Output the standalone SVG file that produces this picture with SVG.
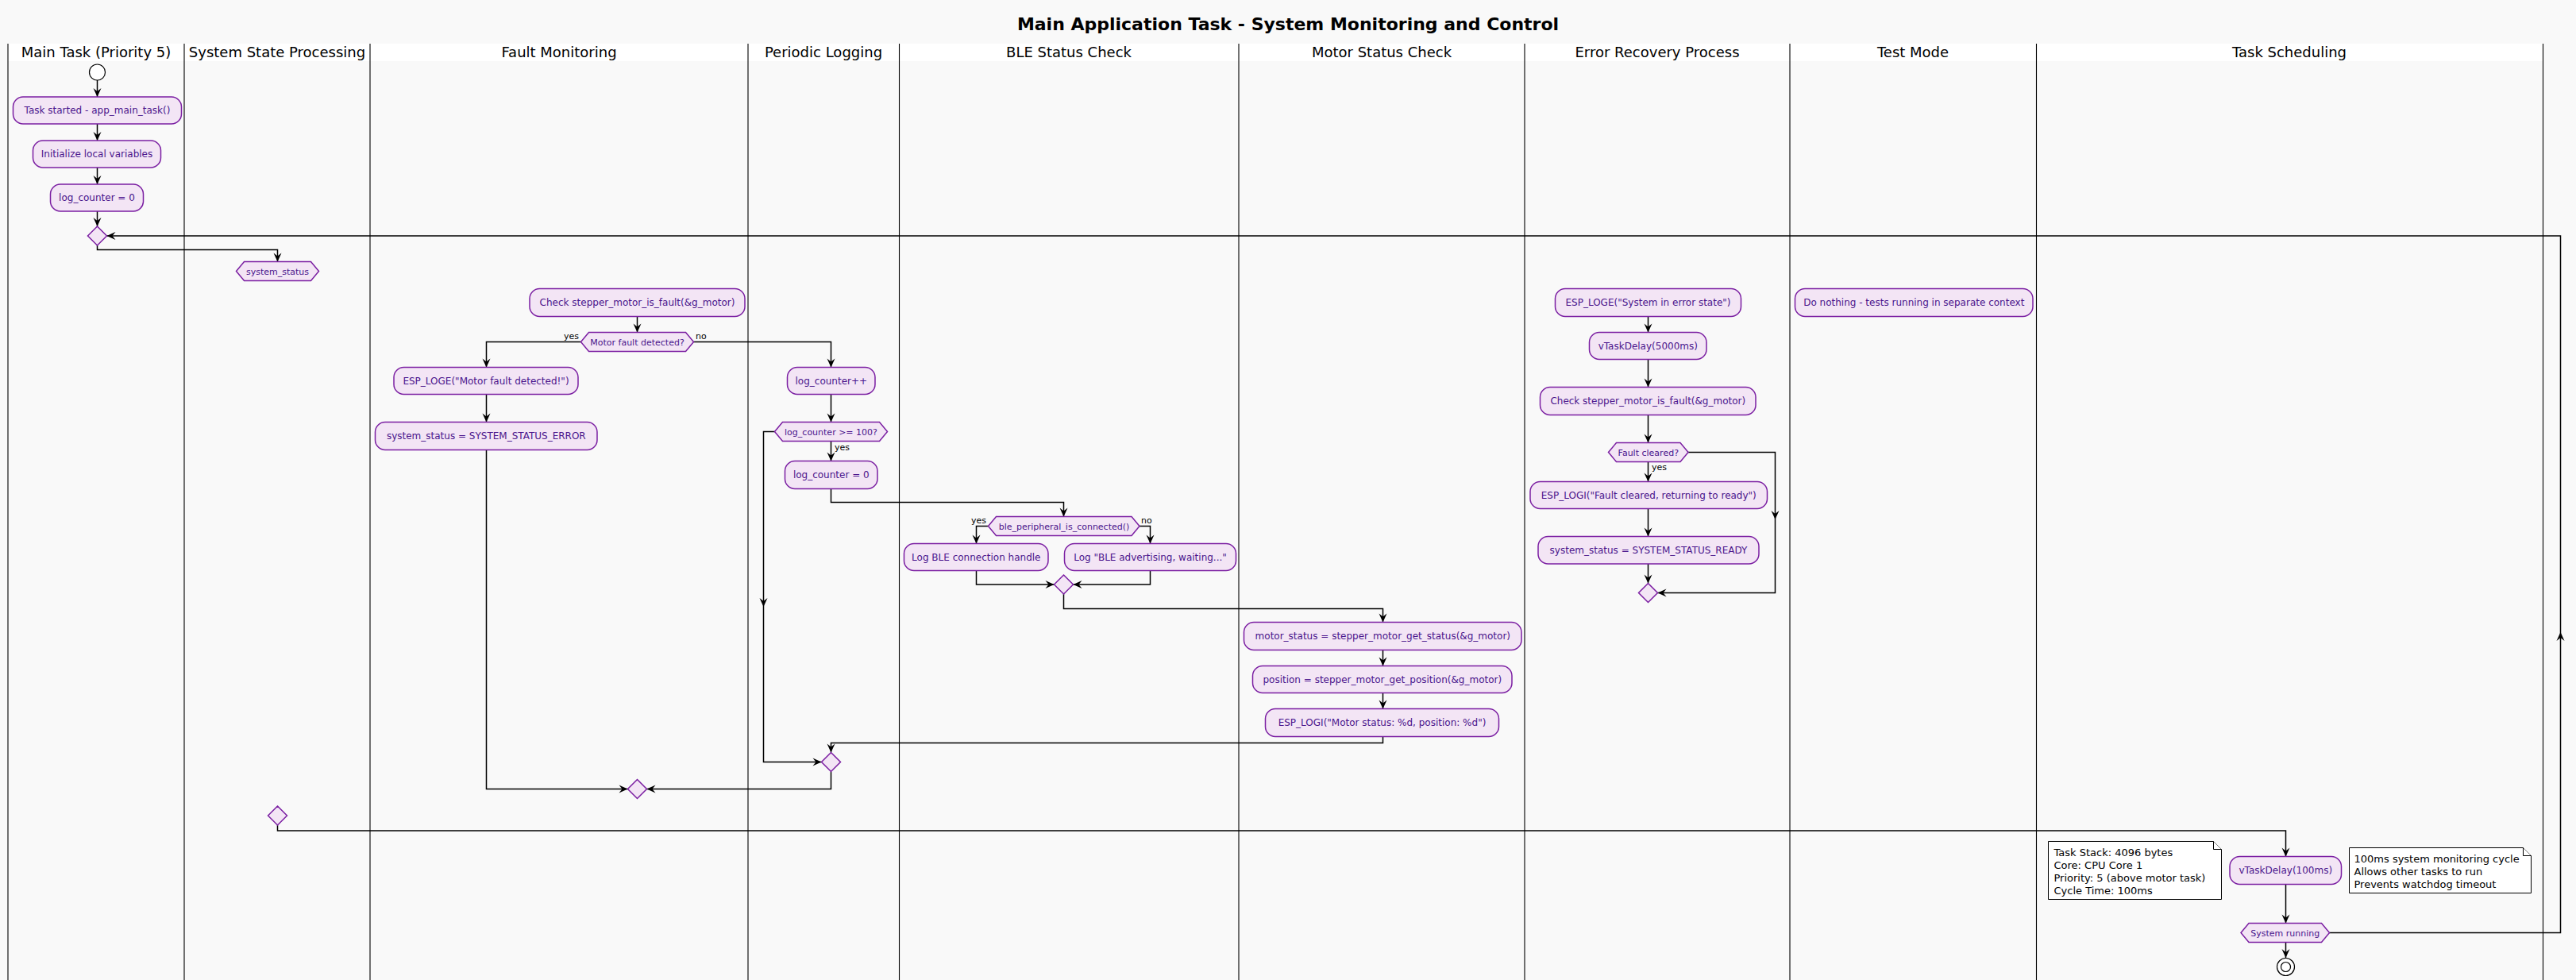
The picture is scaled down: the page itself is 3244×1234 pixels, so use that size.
<svg xmlns="http://www.w3.org/2000/svg" width="3244" height="1234" viewBox="0 0 3244 1234">
<defs>
<style>
.bg{fill:#F9F9F9}
.hdr{fill:#FFFFFF}
.lane{stroke:#000;stroke-width:1.1;fill:none}
.lt{font-family:"DejaVu Sans",Verdana,sans-serif;font-size:18px;fill:#000;text-anchor:middle}
.title{font-family:"DejaVu Sans",Verdana,sans-serif;font-size:22px;font-weight:bold;fill:#000;text-anchor:middle}
.act{fill:#F3E5F5;stroke:#7B1FA2;stroke-width:1.5}
.at{font-family:"DejaVu Sans",Verdana,sans-serif;font-size:12px;fill:#4A148C;text-anchor:middle}
.ht{font-family:"DejaVu Sans",Verdana,sans-serif;font-size:11px;fill:#4A148C;text-anchor:middle}
.lbl{font-family:"DejaVu Sans",Verdana,sans-serif;font-size:11px;fill:#000}
.c{fill:none;stroke:#000;stroke-width:1.5}
.note{fill:#FFFFFF;stroke:#000;stroke-width:1}
.nt{font-family:"DejaVu Sans",Verdana,sans-serif;font-size:13px;fill:#000}
</style>
<marker id="ah" viewBox="-12 -6 13 12" markerWidth="13" markerHeight="12" refX="0" refY="0" orient="auto" markerUnits="userSpaceOnUse">
<path d="M0,0 L-11,-5 L-7,0 L-11,5 Z" fill="#000"/>
</marker>
</defs>
<rect class="bg" x="0" y="0" width="3244" height="1234"/>
<text class="title" x="1622" y="38">Main Application Task - System Monitoring and Control</text>
<g id="lanes">
<rect class="hdr" x="10" y="55" width="3192.5" height="22"/>
<path class="lane" d="M10,55V1234M232,55V1234M466,55V1234M942,55V1234M1132.5,55V1234M1560,55V1234M1920,55V1234M2254,55V1234M2564.5,55V1234M3202.5,55V1234"/>
<text class="lt" x="121" y="72">Main Task (Priority 5)</text>
<text class="lt" x="349" y="72">System State Processing</text>
<text class="lt" x="704" y="72">Fault Monitoring</text>
<text class="lt" x="1037" y="72">Periodic Logging</text>
<text class="lt" x="1346" y="72">BLE Status Check</text>
<text class="lt" x="1740" y="72">Motor Status Check</text>
<text class="lt" x="2087" y="72">Error Recovery Process</text>
<text class="lt" x="2409" y="72">Test Mode</text>
<text class="lt" x="2883" y="72">Task Scheduling</text>
</g>
<g id="connectors" class="c">
<path marker-end="url(#ah)" d="M122.5,101V122"/>
<path marker-end="url(#ah)" d="M122.5,156V177"/>
<path marker-end="url(#ah)" d="M122.5,211V232"/>
<path marker-end="url(#ah)" d="M122.5,266V285"/>
<path marker-end="url(#ah)" d="M122.5,309V314.5H349.5V329.5"/>
<path marker-end="url(#ah)" d="M802.5,398.5V418.5"/>
<path marker-end="url(#ah)" d="M731.5,430.5H612.5V462.5"/>
<path marker-end="url(#ah)" d="M873.5,430.5H1046.5V462.5"/>
<path marker-end="url(#ah)" d="M612.5,496.5V531.5"/>
<path marker-end="url(#ah)" d="M612.5,566.5V993.5H790.5"/>
<path marker-end="url(#ah)" d="M1046.5,496.5V531.5"/>
<path marker-end="url(#ah)" d="M1046.5,555.5V580.5"/>
<path marker-end="url(#ah)" d="M1046.5,615.5V632.5H1339.5V650.5"/>
<path marker-end="url(#ah)" d="M975.5,543.5H961.5V764"/>
<path marker-end="url(#ah)" d="M961.5,764V959.5H1034.5"/>
<path marker-end="url(#ah)" d="M1741.5,927.5V935.5H1046.5V947.5"/>
<path marker-end="url(#ah)" d="M1046.5,971.5V993.5H814.5"/>
<path marker-end="url(#ah)" d="M1244.5,662.5H1229.5V684.5"/>
<path marker-end="url(#ah)" d="M1435,662.5H1448.5V684.5"/>
<path marker-end="url(#ah)" d="M1229.5,718.5V736H1327.5"/>
<path marker-end="url(#ah)" d="M1448.5,718.5V736H1351.5"/>
<path marker-end="url(#ah)" d="M1339.5,748V766.5H1741.5V783.5"/>
<path marker-end="url(#ah)" d="M1741.5,818.5V838.5"/>
<path marker-end="url(#ah)" d="M1741.5,872.5V892.5"/>
<path marker-end="url(#ah)" d="M2075.5,398.5V418.5"/>
<path marker-end="url(#ah)" d="M2075.5,452.5V487.5"/>
<path marker-end="url(#ah)" d="M2075.5,522.5V557.5"/>
<path marker-end="url(#ah)" d="M2075.5,581.5V606.5"/>
<path marker-end="url(#ah)" d="M2075.5,640.5V675.5"/>
<path marker-end="url(#ah)" d="M2075.5,710V734.5"/>
<path marker-end="url(#ah)" d="M2126,569.5H2235.5V654"/>
<path marker-end="url(#ah)" d="M2235.5,654V746.5H2087.5"/>
<path marker-end="url(#ah)" d="M349.5,1039V1046H2878.5V1078.5"/>
<path marker-end="url(#ah)" d="M2878.5,1113.5V1162.5"/>
<path marker-end="url(#ah)" d="M2878.5,1186.5V1206"/>
<path marker-end="url(#ah)" d="M2933.5,1174.5H3224.5V796"/>
<path marker-end="url(#ah)" d="M3224.5,796V297H134.5"/>
</g>
<g id="labels">
<text class="lbl" x="729" y="427" text-anchor="end">yes</text>
<text class="lbl" x="876" y="427">no</text>
<text class="lbl" x="1051" y="567">yes</text>
<text class="lbl" x="1242" y="659" text-anchor="end">yes</text>
<text class="lbl" x="1437" y="659">no</text>
<text class="lbl" x="2080" y="592">yes</text>
</g>
<g id="start"><circle cx="122.5" cy="91" r="10" fill="#FFFFFF" stroke="#000" stroke-width="1.2"/></g>
<g id="task_started"><rect class="act" x="16.5" y="122" width="212" height="34" rx="12.5"/><text class="at" x="122.5" y="143.3">Task started - app_main_task()</text></g>
<g id="init_vars"><rect class="act" x="41.5" y="177" width="161" height="34" rx="12.5"/><text class="at" x="122" y="198.3">Initialize local variables</text></g>
<g id="log_counter_init"><rect class="act" x="63.5" y="232" width="117" height="34" rx="12.5"/><text class="at" x="122" y="253.3">log_counter = 0</text></g>
<g id="loop_merge"><polygon class="act" points="122.5,285 134.5,297 122.5,309 110.5,297"/></g>
<g id="system_status"><polygon class="act" points="297.5,341.5 307.5,329.5 391.5,329.5 401.5,341.5 391.5,353.5 307.5,353.5"/><text class="ht" x="349.5" y="345.5">system_status</text></g>
<g id="check_fault"><rect class="act" x="667" y="363.5" width="271" height="35" rx="12.5"/><text class="at" x="802.5" y="385.3">Check stepper_motor_is_fault(&amp;g_motor)</text></g>
<g id="motor_fault_q"><polygon class="act" points="731.5,430.5 741.5,418.5 863.5,418.5 873.5,430.5 863.5,442.5 741.5,442.5"/><text class="ht" x="802.5" y="434.5">Motor fault detected?</text></g>
<g id="loge_fault"><rect class="act" x="496" y="462.5" width="232" height="34" rx="12.5"/><text class="at" x="612" y="483.8">ESP_LOGE("Motor fault detected!")</text></g>
<g id="status_error"><rect class="act" x="472.5" y="531.5" width="279.5" height="35" rx="12.5"/><text class="at" x="612.3" y="553.3">system_status = SYSTEM_STATUS_ERROR</text></g>
<g id="fault_merge"><polygon class="act" points="802.5,981.5 814.5,993.5 802.5,1005.5 790.5,993.5"/></g>
<g id="log_inc"><rect class="act" x="991.5" y="462.5" width="110.5" height="34" rx="12.5"/><text class="at" x="1046.8" y="483.8">log_counter++</text></g>
<g id="log_q"><polygon class="act" points="975.5,543.5 985.5,531.5 1107.5,531.5 1117.5,543.5 1107.5,555.5 985.5,555.5"/><text class="ht" x="1046.5" y="547.5">log_counter &gt;= 100?</text></g>
<g id="log_reset"><rect class="act" x="988.5" y="580.5" width="116.5" height="35" rx="12.5"/><text class="at" x="1046.8" y="602.3">log_counter = 0</text></g>
<g id="log_merge"><polygon class="act" points="1046.5,947.5 1058.5,959.5 1046.5,971.5 1034.5,959.5"/></g>
<g id="ble_q"><polygon class="act" points="1244.5,662.5 1254.5,650.5 1425,650.5 1435,662.5 1425,674.5 1254.5,674.5"/><text class="ht" x="1340" y="666.5">ble_peripheral_is_connected()</text></g>
<g id="ble_handle"><rect class="act" x="1138.5" y="684.5" width="181.5" height="34" rx="12.5"/><text class="at" x="1229.3" y="705.8">Log BLE connection handle</text></g>
<g id="ble_adv"><rect class="act" x="1340.5" y="684.5" width="216" height="34" rx="12.5"/><text class="at" x="1448.5" y="705.8">Log "BLE advertising, waiting..."</text></g>
<g id="ble_merge"><polygon class="act" points="1339.5,724 1351.5,736 1339.5,748 1327.5,736"/></g>
<g id="motor_status"><rect class="act" x="1566.5" y="783.5" width="349.5" height="35" rx="12.5"/><text class="at" x="1741.3" y="805.3">motor_status = stepper_motor_get_status(&amp;g_motor)</text></g>
<g id="motor_position"><rect class="act" x="1577.5" y="838.5" width="326.5" height="34" rx="12.5"/><text class="at" x="1740.8" y="859.8">position = stepper_motor_get_position(&amp;g_motor)</text></g>
<g id="motor_logi"><rect class="act" x="1593.5" y="892.5" width="294" height="35" rx="12.5"/><text class="at" x="1740.5" y="914.3">ESP_LOGI("Motor status: %d, position: %d")</text></g>
<g id="err_loge"><rect class="act" x="1958.5" y="363.5" width="234" height="35" rx="12.5"/><text class="at" x="2075.5" y="385.3">ESP_LOGE("System in error state")</text></g>
<g id="err_delay"><rect class="act" x="2001.5" y="418.5" width="147.5" height="34" rx="12.5"/><text class="at" x="2075.3" y="439.8">vTaskDelay(5000ms)</text></g>
<g id="err_check"><rect class="act" x="1939.5" y="487.5" width="271.5" height="35" rx="12.5"/><text class="at" x="2075.3" y="509.3">Check stepper_motor_is_fault(&amp;g_motor)</text></g>
<g id="fault_cleared_q"><polygon class="act" points="2025.5,569.5 2035.5,557.5 2116,557.5 2126,569.5 2116,581.5 2035.5,581.5"/><text class="ht" x="2075.8" y="573.5">Fault cleared?</text></g>
<g id="err_logi"><rect class="act" x="1927" y="606.5" width="298.5" height="34" rx="12.5"/><text class="at" x="2076.3" y="627.8">ESP_LOGI("Fault cleared, returning to ready")</text></g>
<g id="status_ready"><rect class="act" x="1937" y="675.5" width="278" height="34.5" rx="12.5"/><text class="at" x="2076" y="697">system_status = SYSTEM_STATUS_READY</text></g>
<g id="err_merge"><polygon class="act" points="2075.5,734.5 2087.5,746.5 2075.5,758.5 2063.5,746.5"/></g>
<g id="test_nothing"><rect class="act" x="2260.5" y="363.5" width="299.5" height="35" rx="12.5"/><text class="at" x="2410.3" y="385.3">Do nothing - tests running in separate context</text></g>
<g id="switch_merge"><polygon class="act" points="349.5,1015 361.5,1027 349.5,1039 337.5,1027"/></g>
<g id="task_delay"><rect class="act" x="2808" y="1078.5" width="140.5" height="35" rx="12.5"/><text class="at" x="2878.3" y="1100.3">vTaskDelay(100ms)</text></g>
<g id="system_running"><polygon class="act" points="2822,1174.5 2832,1162.5 2923.5,1162.5 2933.5,1174.5 2923.5,1186.5 2832,1186.5"/><text class="ht" x="2877.8" y="1178.5">System running</text></g>
<g id="end"><circle cx="2878.5" cy="1217.5" r="11" fill="#FFFFFF" stroke="#000" stroke-width="1.2"/><circle cx="2878.5" cy="1217.5" r="6" fill="#FFFFFF" stroke="#000" stroke-width="1.2"/></g>
<g id="note_task">
<path class="note" d="M2579.5,1059.5H2787.5L2797.5,1069.5V1132.5H2579.5Z"/>
<path class="note" d="M2787.5,1059.5V1069.5H2797.5"/>
<text class="nt" x="2586.5" y="1077.5">Task Stack: 4096 bytes</text>
<text class="nt" x="2586.5" y="1093.5">Core: CPU Core 1</text>
<text class="nt" x="2586.5" y="1109.5">Priority: 5 (above motor task)</text>
<text class="nt" x="2586.5" y="1125.5">Cycle Time: 100ms</text>
</g>
<g id="note_cycle">
<path class="note" d="M2958.5,1067.5H3177.5L3187.5,1077.5V1124.5H2958.5Z"/>
<path class="note" d="M3177.5,1067.5V1077.5H3187.5"/>
<text class="nt" x="2964.5" y="1085.5">100ms system monitoring cycle</text>
<text class="nt" x="2964.5" y="1101.5">Allows other tasks to run</text>
<text class="nt" x="2964.5" y="1117.5">Prevents watchdog timeout</text>
</g>
</svg>
